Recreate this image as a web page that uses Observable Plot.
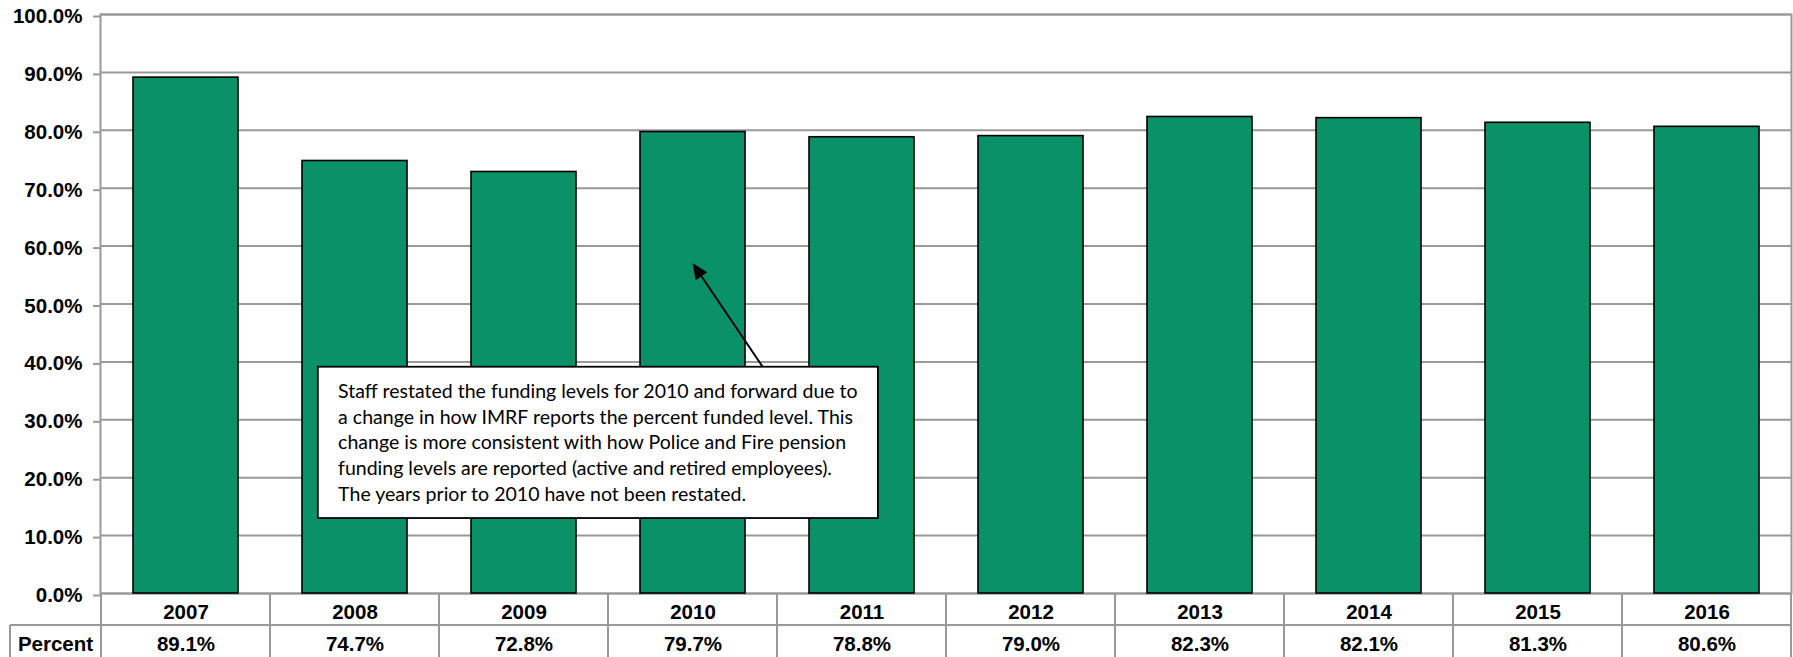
<!DOCTYPE html>
<html><head><meta charset="utf-8">
<script src="https://cdn.jsdelivr.net/npm/d3@7"></script>
<script src="https://cdn.jsdelivr.net/npm/@observablehq/plot@0.6"></script>
<style>body{margin:0;background:#fff}svg{display:block}</style>
</head><body><div id="chart"></div>
<script>
const years = ["2007","2008","2009","2010","2011","2012","2013","2014","2015","2016"];
const percents = [89.1, 74.7, 72.8, 79.7, 78.8, 79.0, 82.3, 82.1, 81.3, 80.6];
const yTicks = [0,10,20,30,40,50,60,70,80,90,100];
const rowLabel = "Percent";
const noteLines = [
  "Staff restated the funding levels for 2010 and forward due to",
  "a change in how IMRF reports the percent funded level. This",
  "change is more consistent with how Police and Fire pension",
  "funding levels are reported (active and retired employees).",
  "The years prior to 2010 have not been restated."
];
// annotation anchored in data terms: [year, fraction of column], value %
const noteBox = {left: ["2008", 0.283], right: ["2011", 0.597], top: 39.08, bottom: 12.95};
const noteArrow = {from: ["2010", 0.915, 39.08], to: ["2010", 0.5, 57.0]};

const data = years.map((year, i) => ({year, value: percents[i]}));
const W = 1793, H = 657;
const GRID = "#999";
const FONT = "'Liberation Sans', Arial, Helvetica, sans-serif";
const FS = 20.5;

const plot = Plot.plot({
  width: W, height: H,
  marginTop: 14, marginBottom: 64, marginLeft: 100, marginRight: 2,
  style: {fontFamily: FONT, background: "#fff"},
  x: {domain: years, paddingInner: 0.38, paddingOuter: 0.19, axis: null},
  y: {domain: [0, 100]},
  marks: [
    Plot.ruleY(yTicks, {stroke: GRID, strokeWidth: 2}),
    Plot.frame({stroke: GRID, strokeWidth: 2}),
    Plot.axisY({ticks: yTicks, tickFormat: d => d.toFixed(1) + "%", tickSize: 7, tickPadding: 11,
      stroke: GRID, strokeWidth: 2, fill: "#000", fontSize: FS, fontWeight: "bold", dy: 2, label: null}),
    Plot.barY(data, {x: "year", y: "value", fill: "#0a9168", stroke: "#000", strokeWidth: 1.6}),
    Plot.text(data, {x: "year", text: "year", frameAnchor: "bottom", lineAnchor: "middle", dy: 19,
      fontSize: FS, fontWeight: "bold", fill: "#000"}),
    Plot.text(data, {x: "year", text: d => d.value.toFixed(1) + "%", frameAnchor: "bottom", lineAnchor: "middle", dy: 51,
      fontSize: FS, fontWeight: "bold", fill: "#000"})
  ]
});
document.getElementById("chart").appendChild(plot);

const xs = plot.scale("x"), ys = plot.scale("y");
const step = xs.step, bw = xs.bandwidth;
const colStart = y => xs.apply(y) - (step - bw) / 2;
const px = ([yr, f]) => colStart(yr) + f * step;
const svg = d3.select(plot);

// table grid
const y0 = ys.apply(0), rowH = 32, y1 = y0 + rowH, yEnd = H;
const xRight = colStart(years[years.length - 1]) + step;
const tableLeft = 10;
const g = svg.append("g").attr("stroke", GRID).attr("stroke-width", 2);
g.append("line").attr("x1", tableLeft).attr("x2", xRight).attr("y1", y1).attr("y2", y1);
g.append("line").attr("x1", tableLeft).attr("x2", tableLeft).attr("y1", y1).attr("y2", yEnd);
years.concat([null]).forEach(yr => {
  const x = yr ? colStart(yr) : xRight;
  g.append("line").attr("x1", x).attr("x2", x).attr("y1", y0).attr("y2", yEnd);
});
svg.append("text").attr("x", (tableLeft + colStart(years[0])) / 2).attr("y", y0 + 51)
  .attr("text-anchor", "middle").attr("dy", "0.32em")
  .attr("font-family", FONT).attr("font-size", FS).attr("font-weight", "bold").text(rowLabel);

// annotation
const bx1 = px(noteBox.left), bx2 = px(noteBox.right);
const by1 = ys.apply(noteBox.top), by2 = ys.apply(noteBox.bottom);
const ax1 = px(noteArrow.from), ay1 = ys.apply(noteArrow.from[2]);
const ax2 = px(noteArrow.to), ay2 = ys.apply(noteArrow.to[2]);
const ang = Math.atan2(ay2 - ay1, ax2 - ax1), hl = 16, hw = 7;
const bxp = ax2 - hl * Math.cos(ang), byp = ay2 - hl * Math.sin(ang);
svg.append("line").attr("x1", ax1).attr("y1", ay1).attr("x2", bxp).attr("y2", byp)
  .attr("stroke", "#000").attr("stroke-width", 2);
svg.append("path").attr("d", `M${ax2},${ay2}L${bxp + hw * Math.sin(ang)},${byp - hw * Math.cos(ang)}L${bxp - hw * Math.sin(ang)},${byp + hw * Math.cos(ang)}Z`)
  .attr("fill", "#000");
svg.append("rect").attr("x", bx1).attr("y", by1).attr("width", bx2 - bx1).attr("height", by2 - by1)
  .attr("fill", "#fff").attr("stroke", "#000").attr("stroke-width", 1.8);

const NOTE_FONT = "Lato, 'Open Sans', sans-serif";
const NOTE_FS = 18.5;
const pad = 20.3;
const ctx = document.createElement("canvas").getContext("2d");
ctx.font = `${NOTE_FS}px ${NOTE_FONT}`;
const targetW = (bx2 - bx1) - 2 * pad;
const k = targetW / ctx.measureText(noteLines[0]).width;
const lineH = 25.8;
noteLines.forEach((ln, i) => {
  svg.append("text").attr("font-family", NOTE_FONT).attr("font-size", NOTE_FS).attr("fill", "#000")
    .attr("text-anchor", "start")
    .attr("x", bx1 + pad).attr("y", by1 + 31 + i * lineH)
    .attr("textLength", ctx.measureText(ln).width * k).attr("lengthAdjust", "spacingAndGlyphs")
    .text(ln);
});
</script>
</body></html>
